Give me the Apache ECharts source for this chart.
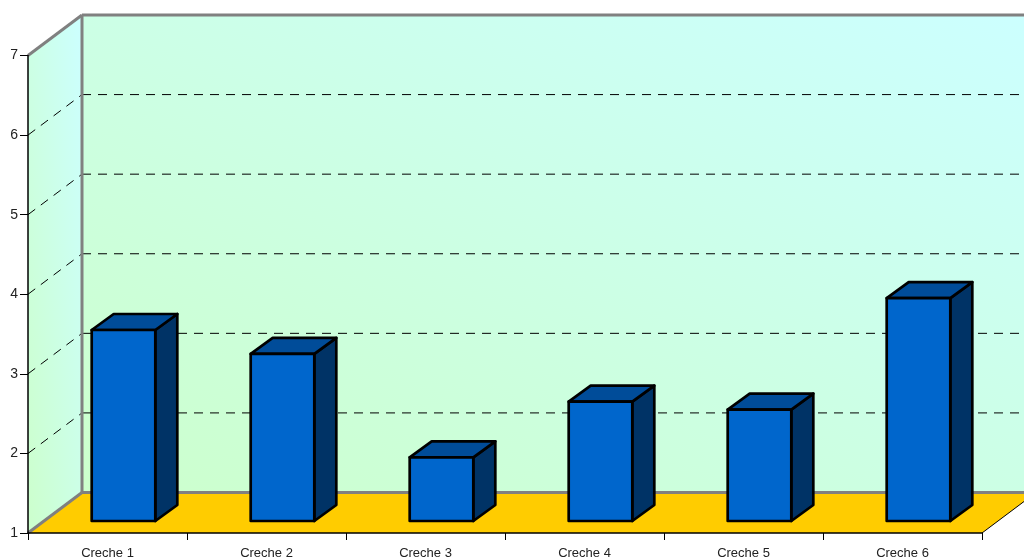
<!DOCTYPE html>
<html><head><meta charset="utf-8">
<style>html,body{margin:0;padding:0;background:#fff}#c{width:1024px;height:558px}</style>
<script src="https://cdn.jsdelivr.net/npm/echarts@6/dist/echarts.min.js"></script>
</head><body><div id="c"></div>
<script>
var categories = ['Creche 1','Creche 2','Creche 3','Creche 4','Creche 5','Creche 6'];
var values = [3.4, 3.1, 1.8, 2.5, 2.4, 3.8];
var yMin = 1, yMax = 7, yStep = 1;
var gridTicks = [2, 3, 4, 5, 6];

var WALL_DX = 54, WALL_DY = -40.5;
var BAR_DX = 22, BAR_DY = -16, BAR_SHIFT_X = 16, BAR_SHIFT_Y = -12, BAR_RATIO = 0.4;

function poly(points, style, z2) {
  return {type:'polygon', shape:{points:points}, style:style, z2:z2||0, silent:true};
}
function line(a, b, style, z2) {
  return {type:'line', shape:{x1:a[0],y1:a[1],x2:b[0],y2:b[1]}, style:style, z2:z2||0, silent:true};
}
// Corner-to-corner gradient whose iso-lines run parallel to the top-left / bottom-right diagonal
function diag(W, H, c0, c1) {
  var D2 = W*W + H*H;
  return {type:'linear', x:0, y:1, x2:2*H*H/D2, y2:1 - 2*W*W/D2,
    colorStops:[{offset:0,color:c0},{offset:1,color:c1}]};
}
function renderWalls(params, api) {
  var cs = params.coordSys;
  var L = cs.x, R = cs.x + cs.width, T = cs.y, B = cs.y + cs.height;
  var dx = WALL_DX, dy = WALL_DY;
  var gray = {stroke:'#808080', lineWidth:3, fill:null};
  var ch = [
    poly([[L+dx,T+dy],[R+dx,T+dy],[R+dx,B+dy],[L+dx,B+dy]], {fill:diag(R-L, B-T, '#ccffcc','#ccffff')}),
    poly([[L,T],[L+dx,T+dy],[L+dx,B+dy],[L,B]], {fill:diag(dx, B-T-dy, '#ccffcc','#ccffff')}),
    poly([[L,B],[L+dx,B+dy],[R+dx,B+dy],[R,B]], {fill:'#ffcc00'})
  ];
  gridTicks.forEach(function (v) {
    var y = api.coord([0, v])[1];
    var dash = {stroke:'#000', lineWidth:1, lineDash:[9,7], fill:null};
    ch.push(line([L,y],[L+dx,y+dy],dash,1));
    ch.push(line([L+dx,y+dy],[R+dx,y+dy],dash,1));
  });
  ch.push(line([L,T],[L+dx,T+dy],gray,2));
  ch.push(line([L+dx,T+dy],[R+dx,T+dy],gray,2));
  ch.push(line([L+dx,T+dy],[L+dx,B+dy],gray,2));
  ch.push(line([L+dx,B+dy],[R+dx,B+dy],gray,2));
  ch.push(line([L,B],[L+dx,B+dy],gray,2));
  ch.push(line([R,B],[R+dx,B+dy],{stroke:'#000',lineWidth:1,fill:null},2));
  return {type:'group', children:ch};
}
function renderBar(params, api) {
  var i = api.value(0), v = api.value(1);
  var top = api.coord([i, v]), base = api.coord([i, yMin]);
  var w = api.size([1, 0])[0] * BAR_RATIO;
  var x0 = top[0] - w/2 + BAR_SHIFT_X, x1 = x0 + w;
  var yt = top[1] + BAR_SHIFT_Y, yb = base[1] + BAR_SHIFT_Y;
  var s = function (f) { return {fill:f, stroke:'#000', lineWidth:2.7, lineJoin:'round'}; };
  return {type:'group', children:[
    poly([[x1,yt],[x1+BAR_DX,yt+BAR_DY],[x1+BAR_DX,yb+BAR_DY],[x1,yb]], s('#003366')),
    poly([[x0,yt],[x0+BAR_DX,yt+BAR_DY],[x1+BAR_DX,yt+BAR_DY],[x1,yt]], s('#004c99')),
    poly([[x0,yt],[x1,yt],[x1,yb],[x0,yb]], s('#0066cc'))
  ]};
}
var chart = echarts.init(document.getElementById('c'), null, {renderer:'canvas'});
chart.setOption({
  animation:false,
  backgroundColor:'#fff',
  tooltip:{show:false},
  grid:{left:28, top:55.5, right:42, bottom:25, containLabel:false, outerBoundsMode:'none'},
  xAxis:{type:'category', data:categories, z:5,
    axisLine:{lineStyle:{color:'#000',width:1.5}},
    axisTick:{show:true, length:7, alignWithLabel:false, lineStyle:{color:'#000',width:1}},
    axisLabel:{color:'#222', fontFamily:'Liberation Sans', fontSize:13, margin:14},
    splitLine:{show:false}},
  yAxis:{type:'value', min:yMin, max:yMax, interval:yStep, z:5,
    axisLine:{show:true, lineStyle:{color:'#000',width:1.5}},
    axisTick:{show:true, length:8, lineStyle:{color:'#000',width:1}},
    axisLabel:{color:'#222', fontFamily:'Liberation Sans', fontSize:14, margin:10},
    splitLine:{show:false}},
  series:[
    {type:'custom', z:1, clip:false, silent:true, renderItem:renderWalls, data:[[0,yMin]], encode:{x:0,y:1}},
    {type:'custom', z:3, clip:false, silent:true, renderItem:renderBar,
     data:values.map(function(v,i){return [i,v];}), encode:{x:0,y:1}}
  ]
});
</script></body></html>
